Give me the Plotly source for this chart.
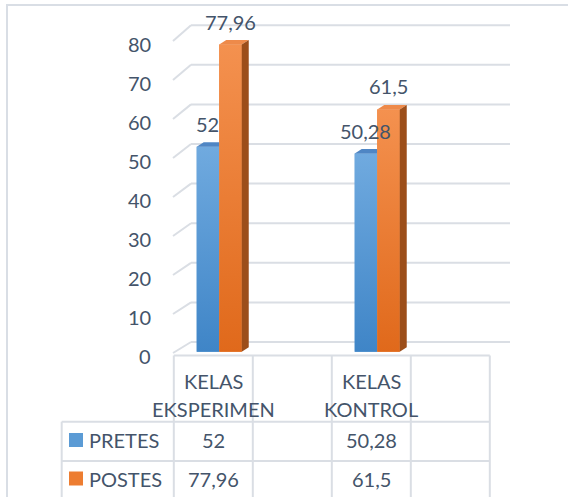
import plotly.graph_objects as go

# ---------------- data ----------------
categories = ["KELAS EKSPERIMEN", "", "KELAS KONTROL", ""]
cat_labels = [["KELAS", "EKSPERIMEN"], [], ["KELAS", "KONTROL"], []]
series_names = ["PRETES", "POSTES"]
pretes = [52, None, 50.28, None]
postes = [77.96, None, 61.5, None]
y_ticks = [0, 10, 20, 30, 40, 50, 60, 70, 80]

# ---------------- style / geometry ----------------
W, H = 568, 497
X0, SX = 213.3, 79.0      # px of category 0 centre, px per category
Y0, SY = 351.7, 3.94      # px of value 0, px per unit
FONT = "Lato"
FS = 20
TXT = "#44546A"
GRID = "#DADEE4"
front_colors = ["#5B9BD5", "#ED7D31"]
grad_bottom = ["#3F85C7", "#E0691B"]
grad_top = ["#70AADF", "#F4914F"]
top_colors = ["#4F86C4", "#EE8A4A"]
side_colors = ["#3C6FA8", "#9C4E1A"]
bar_w = 0.285
offsets = [-0.21, 0.075]
DX = 7 / SX               # depth shift (x) of 3D faces
DY = 4.5 / SY             # depth shift (y) of 3D faces

def px(x):
    return x / W

def py(y):
    return 1 - y / H

def fmt(v):
    return f"{v:g}".replace(".", ",")

xs = list(range(len(categories)))
series = [pretes, postes]

fig = go.Figure()

# front faces
for name, vals, col, off in zip(series_names, series, front_colors, offsets):
    fig.add_trace(go.Bar(x=xs, y=vals, name=name, width=bar_w, offset=off,
                         marker=dict(color=col, line=dict(width=0)),
                         showlegend=False, hoverinfo="skip"))

# 3D shading: gradient on front, top and side faces computed from the values
for si, (vals, off) in enumerate(zip(series, offsets)):
    for i, v in zip(xs, vals):
        if v is None:
            continue
        xl = i + off
        xr = xl + bar_w
        last = si == len(series) - 1
        # gradient overlay on the front face
        fig.add_trace(go.Scatter(
            x=[xl, xr, xr, xl, xl], y=[0, 0, v, v, 0], fill="toself",
            mode="lines", line=dict(width=0),
            fillgradient=dict(type="vertical", start=0, stop=v,
                              colorscale=[[0, grad_bottom[si]],
                                          [1, grad_top[si]]]),
            showlegend=False, hoverinfo="skip"))
        if last:
            tx = [xl, xr, xr + DX, xl + DX, xl]
        else:
            tx = [xl, xr, xr, xl + DX, xl]
        ty = [v, v, v + DY, v + DY, v]
        fig.add_trace(go.Scatter(x=tx, y=ty, fill="toself", mode="lines",
                                 line=dict(width=0), fillcolor=top_colors[si],
                                 showlegend=False, hoverinfo="skip"))
        if last:
            sx_ = [xr, xr + DX, xr + DX, xr, xr]
            sy_ = [0, DY, v + DY, v, 0]
            fig.add_trace(go.Scatter(x=sx_, y=sy_, fill="toself", mode="lines",
                                     line=dict(width=0), fillcolor=side_colors[si],
                                     showlegend=False, hoverinfo="skip"))

shapes = []
annotations = []

def txt(text, **kw):
    d = dict(text=text, showarrow=False, yanchor="middle",
             font=dict(family=FONT, size=FS, color=TXT))
    d.update(kw)
    annotations.append(d)

# back-wall gridlines with perspective diagonals + tick labels
def front_u(v):
    return (Y0 - (353.0 - 3.9 * v)) / SY

def back_u(v):
    return (Y0 - (342.0 - 3.96 * v)) / SY

for v in y_ticks:
    shapes.append(dict(type="line", xref="paper", yref="y",
                       x0=px(173), y0=front_u(v), x1=px(191), y1=back_u(v),
                       line=dict(color=GRID, width=2), layer="below"))
    shapes.append(dict(type="line", xref="paper", yref="y",
                       x0=px(191), y0=back_u(v), x1=px(510), y1=back_u(v),
                       line=dict(color=GRID, width=2), layer="below"))
    txt(str(v), xref="paper", yref="y", x=px(153), y=front_u(v), yshift=-3,
        xanchor="right")

# data labels
for vals, off in zip(series, offsets):
    for i, v in zip(xs, vals):
        if v is None:
            continue
        txt(fmt(v), x=i + off + bar_w / 2, y=v, xref="x", yref="y", yshift=23,
            xanchor="center")

# data table
TOP, R1, R2 = 355.5, 421.7, 461.0
LEG_X = 61.7
n = len(categories)
x_lo, x_hi = -X0 / SX, (W - X0) / SX
right_paper = (n - 0.5 - x_lo) / (x_hi - x_lo)
shapes.append(dict(type="line", xref="x", yref="paper", x0=-0.5, x1=n - 0.5,
                   y0=py(TOP), y1=py(TOP), line=dict(color=GRID, width=2)))
for k in range(n + 1):
    shapes.append(dict(type="line", xref="x", yref="paper", x0=k - 0.5,
                       x1=k - 0.5, y0=py(TOP), y1=0,
                       line=dict(color=GRID, width=2)))
shapes.append(dict(type="line", xref="paper", yref="paper", x0=px(LEG_X),
                   x1=px(LEG_X), y0=py(R1), y1=0,
                   line=dict(color=GRID, width=2)))
for ry in (R1, R2):
    shapes.append(dict(type="line", xref="paper", yref="paper", x0=px(LEG_X),
                       x1=right_paper, y0=py(ry), y1=py(ry),
                       line=dict(color=GRID, width=2)))

line_y = [380.5, 408.5]
for i, lab in zip(xs, cat_labels):
    for part, ly in zip(lab, line_y):
        txt(part, x=i, xref="x", yref="paper", y=py(ly), xanchor="center")

row_centers = [440, 478.5]
for name, vals, col, rc in zip(series_names, series, front_colors, row_centers):
    shapes.append(dict(type="rect", xref="paper", yref="paper",
                       x0=px(69), x1=px(83), y0=py(rc - 7), y1=py(rc + 7),
                       fillcolor=col, line=dict(width=0)))
    txt(name, xref="paper", yref="paper", x=px(87), y=py(rc), xanchor="left")
    for i, v in zip(xs, vals):
        if v is None:
            continue
        txt(fmt(v), x=i, xref="x", yref="paper", y=py(rc), xanchor="center")

# outer chart frame
shapes.append(dict(type="path", xref="paper", yref="paper",
                   path=f"M {px(7)},0 L {px(7)},{py(5)} L 1,{py(5)}",
                   line=dict(color="#D9DEE5", width=2)))

fig.update_layout(
    width=W, height=H,
    margin=dict(l=0, r=0, t=0, b=0),
    paper_bgcolor="white", plot_bgcolor="rgba(0,0,0,0)",
    barmode="overlay",
    xaxis=dict(range=[x_lo, x_hi], visible=False, fixedrange=True),
    yaxis=dict(range=[-(H - Y0) / SY, Y0 / SY], visible=False, fixedrange=True),
    shapes=shapes, annotations=annotations,
    showlegend=False,
)

fig.write_html("out.html", config={"displayModeBar": False},
               post_script="document.body.style.margin='0';")
